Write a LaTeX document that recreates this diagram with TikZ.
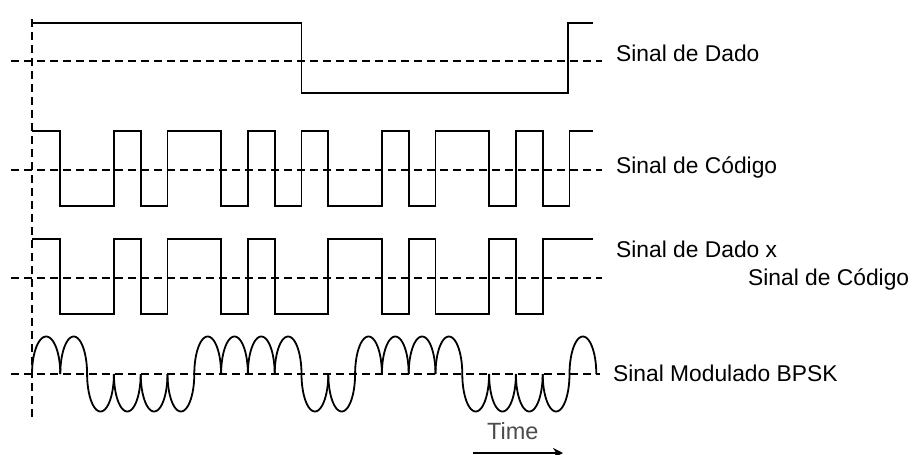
\documentclass[tikz,border=0pt]{standalone}
\usepackage{fontspec}
\setmainfont{Liberation Sans}
\usetikzlibrary{arrows.meta}
\begin{document}
\begin{tikzpicture}[x=1pt,y=-1pt,
  sig/.style={line width=1.8pt, line join=miter},
  midline/.style={line width=1.8pt, dash pattern=on 8pt off 5pt},
  lbl/.style={anchor=base west, inner sep=0pt, font=\fontsize{22.8}{27}\selectfont},
  timelbl/.style={anchor=base west, inner sep=0pt, text=black!70, font=\fontsize{23.5}{28}\selectfont}]
\useasboundingbox[fill=white] (0,0) rectangle (913,455);

% time axis (vertical dashed) and mid lines
\draw[midline] (32,19) -- (32,418);
\draw[midline] (11,61) -- (602,61);
\draw[midline] (11,170) -- (602,170);
\draw[midline] (11,278) -- (602,278);
\draw[midline] (11,374) -- (600,374);

% data signal
\draw[sig] (32,23) -- (301.5,23) -- (301.5,93) -- (568,93) -- (568,23) -- (593,23);

% code signal
\draw[sig] (32,131) -- (60.3,131) -- (60.3,206) -- (113.9,206) -- (113.9,131) -- (140.7,131)
  -- (140.7,206) -- (167.5,206) -- (167.5,131) -- (221.1,131) -- (221.1,206) -- (247.9,206)
  -- (247.9,131) -- (274.7,131) -- (274.7,206) -- (301.5,206) -- (301.5,131) -- (328.3,131)
  -- (328.3,206) -- (381.9,206) -- (381.9,131) -- (408.7,131) -- (408.7,206) -- (435.5,206)
  -- (435.5,131) -- (489.1,131) -- (489.1,206) -- (515.9,206) -- (515.9,131) -- (542.7,131)
  -- (542.7,206) -- (569.5,206) -- (569.5,131) -- (593,131);

% data x code
\draw[sig] (32,239) -- (60.3,239) -- (60.3,314) -- (113.9,314) -- (113.9,239) -- (140.7,239)
  -- (140.7,314) -- (167.5,314) -- (167.5,239) -- (221.1,239) -- (221.1,314) -- (247.9,314)
  -- (247.9,239) -- (274.7,239) -- (274.7,314) -- (328.3,314) -- (328.3,239) -- (381.9,239)
  -- (381.9,314) -- (408.7,314) -- (408.7,239) -- (435.5,239) -- (435.5,314) -- (489.1,314)
  -- (489.1,239) -- (515.9,239) -- (515.9,314) -- (542.7,314) -- (542.7,239) -- (593,239);

% BPSK modulated signal
\foreach \s [count=\k from 0] in {1,1,-1,-1,-1,-1,1,1,1,1,-1,-1,1,1,1,1,-1,-1,-1,-1,1} {
  \pgfmathsetmacro\xa{\k==0 ? 32 : 33.5+26.8*\k}
  \pgfmathsetmacro\w{33.5+26.8*(\k+1)-\xa}
  \draw[sig] plot[domain=0:180, samples=31, smooth] ({\xa+\w*(1-cos(\x))/2}, {374-\s*37.5*sin(\x)});
}

% labels
\node[lbl] (ldado) at (616,61) {Sinal de Dado};
\node[lbl] (lcod) at (616,173) {Sinal de Código};
\node[lbl] (lprod1) at (616,257) {Sinal de Dado x};
\node[lbl] (lprod2) at (748,285) {Sinal de Código};
\node[lbl] (lbpsk) at (613,381) {Sinal Modulado BPSK};
\node[timelbl] (ltime) at (487,439) {Time};

% time arrow
\coordinate (ta) at (473,453);
\coordinate (tb) at (563,453);
\draw[line width=2pt, -{Stealth[length=10pt,width=10pt]}] (ta) -- (tb);
\end{tikzpicture}
\end{document}
